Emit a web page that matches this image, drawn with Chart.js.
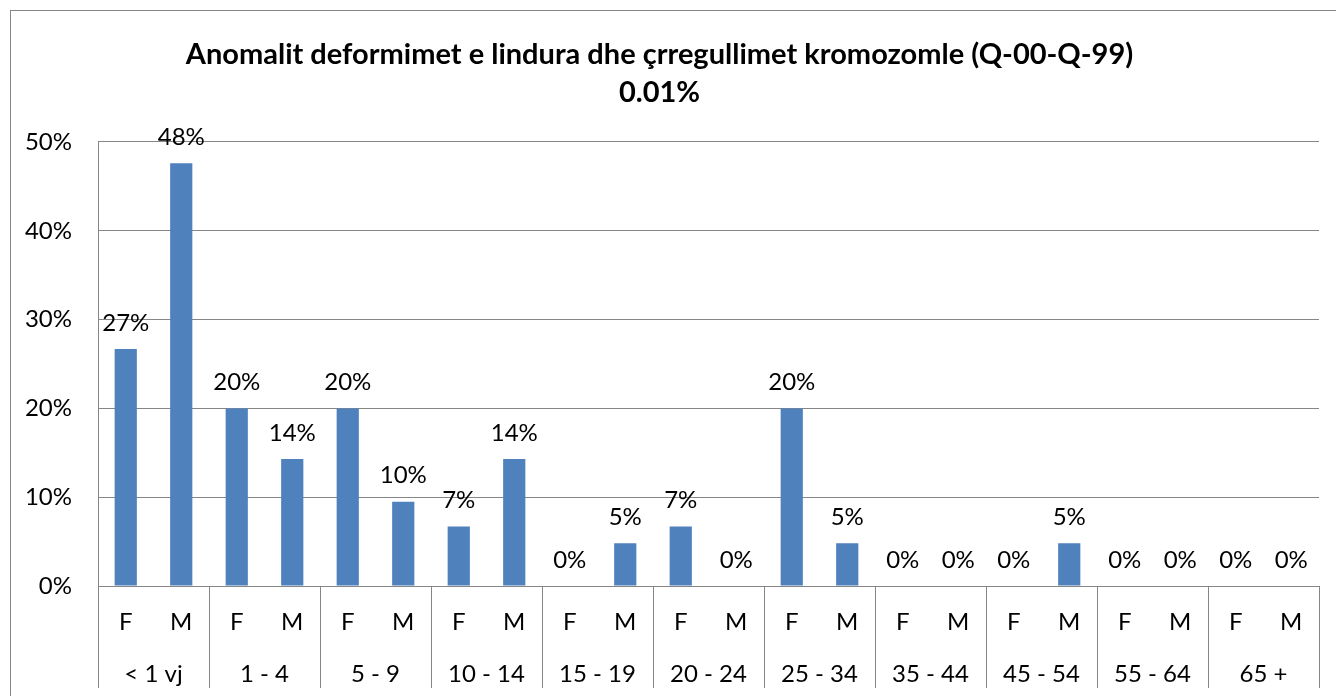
<!DOCTYPE html>
<html>
<head>
<meta charset="utf-8">
<script src="https://cdn.jsdelivr.net/npm/chart.js@4/dist/chart.umd.min.js"></script>
<style>
  html, body { margin: 0; padding: 0; background: #fff; }
  #wrap { width: 1336px; height: 696px; }
</style>
</head>
<body>
<div id="wrap"><canvas id="anomalyChart" width="1336" height="696"></canvas></div>
<script>
const titleLines = ["Anomalit deformimet e lindura dhe çrregullimet kromozomle (Q-00-Q-99)", "0.01%"];
const ageGroups = ["< 1 vj", "1 - 4", "5 - 9", "10 - 14", "15 - 19", "20 - 24", "25 - 34", "35 - 44", "45 - 54", "55 - 64", "65 +"];
const sexes = ["F", "M"];
const femaleValues = [26.7, 20, 20, 6.7, 0, 6.7, 20, 0, 0, 0, 0];
const maleValues = [47.6, 14.3, 9.5, 14.3, 4.8, 0, 4.8, 0, 4.8, 0, 0];
const yTicks = [0, 10, 20, 30, 40, 50];

const FONT = "Lato, 'Liberation Sans', sans-serif";
const GRID = "#868686";
const BAR = "#4F81BD";

// one bar per (age group, sex) pair
const labels = [];
const values = [];
ageGroups.forEach((g, i) => {
  labels.push(sexes[0]);
  values.push(femaleValues[i]);
  labels.push(sexes[1]);
  values.push(maleValues[i]);
});

// outer frame of the chart
const framePlugin = {
  id: "frame",
  beforeDraw(chart) {
    const ctx = chart.ctx;
    ctx.save();
    ctx.strokeStyle = GRID;
    ctx.lineWidth = 1;
    ctx.strokeRect(10.5, 10.5, 1400, 800);
    ctx.restore();
  },
};

// value labels above bars + two-level category axis
const labelsPlugin = {
  id: "barLabels",
  afterDraw(chart) {
    const ctx = chart.ctx;
    const x = chart.scales.x;
    const area = chart.chartArea;
    ctx.save();
    ctx.fillStyle = "#000";
    ctx.font = "24px " + FONT;
    ctx.textAlign = "center";
    ctx.textBaseline = "middle";

    const meta = chart.getDatasetMeta(0);
    meta.data.forEach((bar, i) => {
      ctx.fillText(Math.round(values[i]) + "%", bar.x, bar.y - 26);
    });

    labels.forEach((lab, i) => {
      ctx.fillText(lab, x.getPixelForValue(i), 622);
    });

    ctx.strokeStyle = GRID;
    ctx.lineWidth = 1;
    ageGroups.forEach((g, gi) => {
      const a = x.getPixelForValue(gi * 2);
      const b = x.getPixelForValue(gi * 2 + 1);
      ctx.fillText(g, (a + b) / 2, 674);
      const left = gi === 0 ? area.left : (x.getPixelForValue(gi * 2 - 1) + a) / 2;
      ctx.beginPath();
      ctx.moveTo(Math.round(left) + 0.5, area.bottom);
      ctx.lineTo(Math.round(left) + 0.5, 688);
      ctx.stroke();
    });
    ctx.beginPath();
    ctx.moveTo(Math.round(area.right) + 0.5, area.bottom);
    ctx.lineTo(Math.round(area.right) + 0.5, 688);
    ctx.stroke();
    ctx.restore();
  },
};

new Chart(document.getElementById("anomalyChart"), {
  type: "bar",
  data: {
    labels: labels,
    datasets: [{
      data: values,
      backgroundColor: BAR,
      borderWidth: 0,
      categoryPercentage: 1,
      barPercentage: 0.4,
    }],
  },
  options: {
    responsive: false,
    animation: false,
    layout: { padding: { left: 0, right: 17, top: 0, bottom: 110 } },
    plugins: {
      legend: { display: false },
      tooltip: { enabled: false },
      title: {
        display: true,
        text: titleLines,
        color: "#000",
        font: { family: FONT, size: 29, weight: "bold", lineHeight: 1.31 },
        padding: { top: 36, bottom: 30 },
      },
    },
    scales: {
      x: { display: false },
      y: {
        min: 0,
        max: 50,
        afterFit(scale) { scale.width = 98; },
        afterBuildTicks(scale) { scale.ticks = yTicks.map(v => ({ value: v })); },
        ticks: {
          color: "#000",
          font: { family: FONT, size: 24 },
          padding: 26,
          callback: v => v + "%",
        },
        grid: { color: GRID, lineWidth: 1, drawTicks: false },
        border: { color: GRID, width: 1 },
      },
    },
  },
  plugins: [framePlugin, labelsPlugin],
});
</script>
</body>
</html>
